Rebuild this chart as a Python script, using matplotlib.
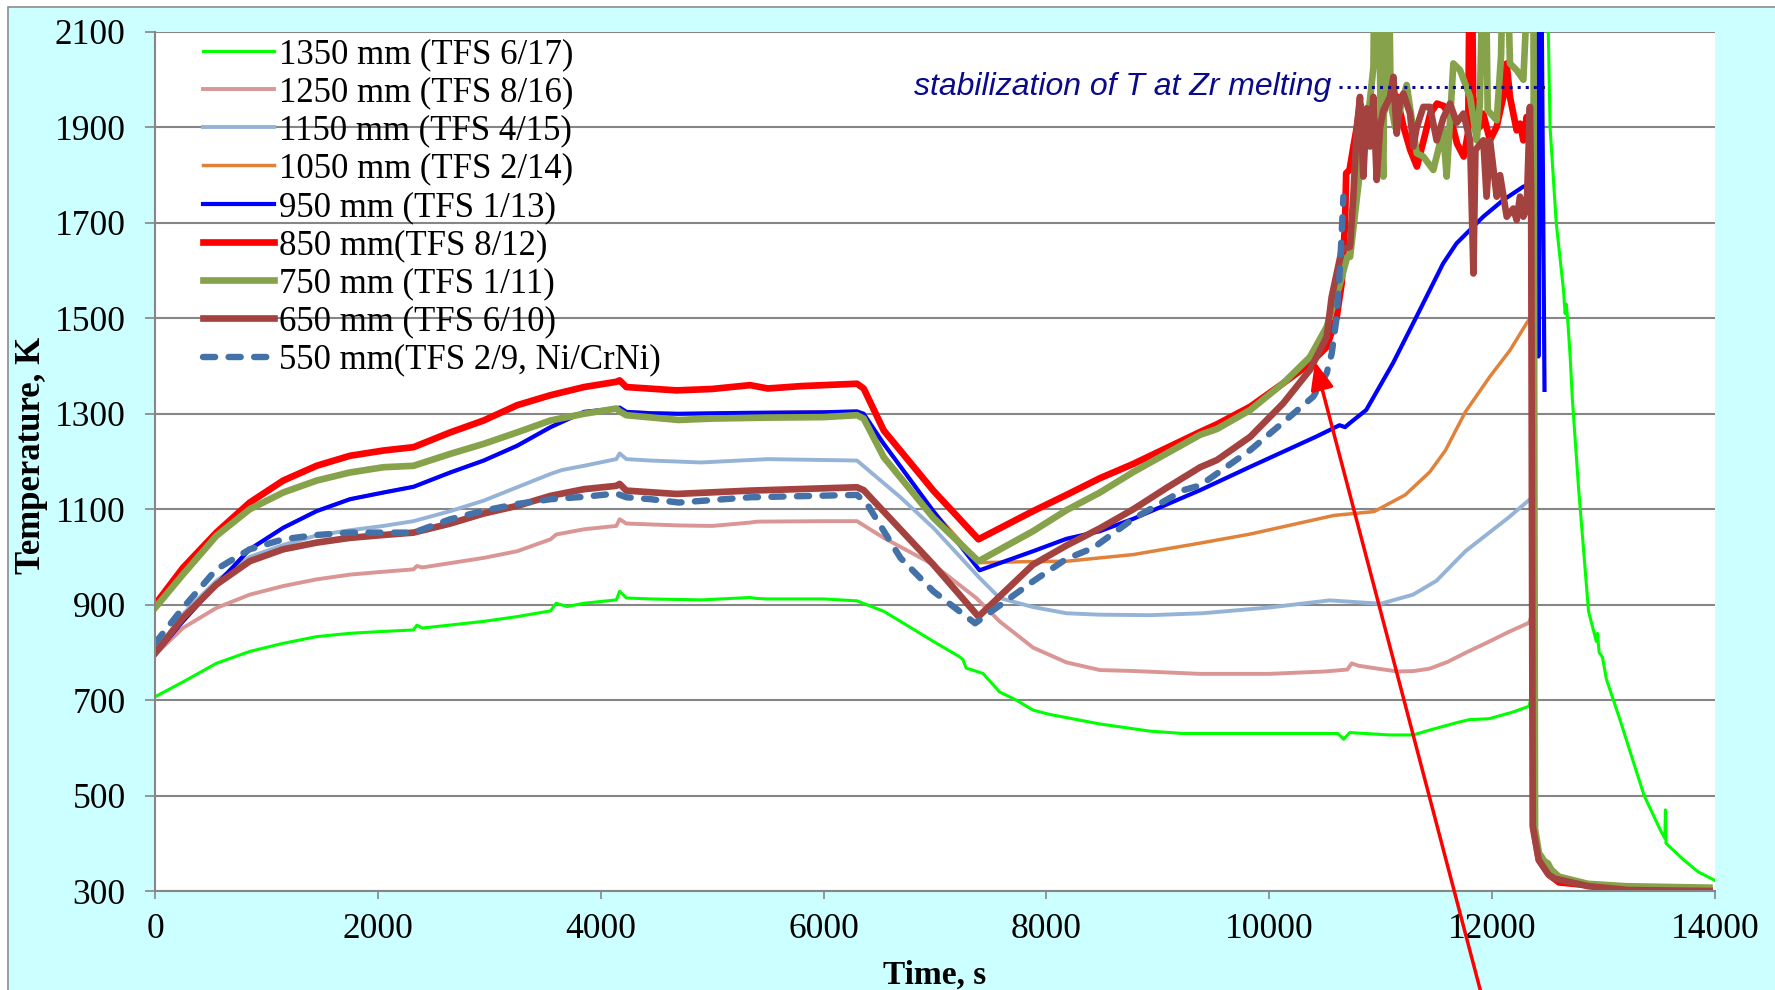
import matplotlib
matplotlib.use("Agg")
import matplotlib.pyplot as plt
from matplotlib.patches import Rectangle

plt.rcParams['font.family'] = ['Liberation Serif', 'DejaVu Serif']

# 1350 mm (TFS 6/17)
t_1350 = [0, 250, 550, 850, 1150, 1450, 1750, 2050, 2320, 2350, 2400, 2950, 3250, 3550, 3600,
          3700, 3850, 4140, 4170, 4230, 4450, 4900, 5340, 5400, 5500, 6000, 6300, 6540, 6690,
          6985, 7220, 7250, 7280, 7430, 7580, 7730, 7880, 8030, 8480, 8930, 9230, 10000, 10615,
          10668, 10722, 11079, 11293, 11436, 11686, 11793, 11972, 12186, 12329, 12345, 12440,
          12500, 12520, 12575, 12640, 12655, 12665, 12680, 12700, 12720, 12775, 12865, 12935,
          12945, 12960, 12990, 13025, 13150, 13257, 13364, 13507, 13550, 13555, 13560, 13720,
          13850, 14000]
T_1350 = [707, 738, 777, 802, 819, 833, 840, 844, 847, 857, 851, 865, 875, 887, 903,
          896, 903, 910, 928, 914, 912, 910, 915, 913, 912, 912, 908, 886, 865,
          823, 791, 785, 767, 756, 717, 700, 679, 670, 650, 635, 630, 630, 630,
          618, 632, 627, 627, 637, 653, 659, 661, 675, 687, 700, 2300,
          2150, 1900, 1700, 1560, 1510, 1530, 1490, 1420, 1330, 1146, 886, 823,
          840, 800, 790, 744, 657, 578, 500, 429, 410, 470, 400, 365,
          340, 322]

# 1250 mm (TFS 8/16)
t_1250 = [0, 250, 550, 850, 1150, 1450, 1750, 2050, 2320, 2350, 2400, 2950, 3250, 3550, 3600,
          3850, 4140, 4170, 4230, 4700, 5000, 5340, 5400, 6000, 6300, 6540, 6985, 7370, 7580,
          7880, 8180, 8480, 8780, 9380, 10000, 10500, 10700, 10740, 10800, 11000, 11150,
          11300, 11440, 11600, 11760, 11950, 12150, 12330, 12360]
T_1250 = [795, 851, 893, 921, 939, 953, 963, 969, 974, 981, 978, 998, 1012, 1037, 1047,
          1058, 1065, 1079, 1070, 1066, 1065, 1072, 1074, 1075, 1075, 1040, 984, 914, 865,
          810, 779, 763, 761, 755, 755, 760, 764, 777, 772, 765, 760,
          761, 766, 780, 799, 820, 843, 862, 880]

# 1150 mm (TFS 4/15)
t_1150 = [0, 250, 550, 850, 1150, 1450, 1750, 2050, 2320, 2650, 2950, 3250, 3550, 3650, 3850,
          4140, 4170, 4230, 4450, 4900, 5500, 6300, 6690, 6985, 7400, 7580, 7880, 8180, 8480,
          8930, 9400, 10000, 10540, 11000, 11290, 11500, 11760, 12150, 12330]
T_1150 = [800, 880, 950, 1000, 1025, 1045, 1056, 1065, 1075, 1096, 1118, 1146, 1174, 1182, 1191,
          1205, 1217, 1205, 1202, 1198, 1205, 1202, 1125, 1061, 956, 914, 895, 882, 879,
          878, 882, 894, 909, 902, 921, 950, 1012, 1083, 1119]

# 1050 mm (TFS 2/14)
t_1050 = [0, 250, 550, 850, 1150, 1450, 1750, 2050, 2320, 2650, 2950, 3250, 3550, 3850, 4140,
          4230, 4700, 5340, 6300, 6540, 6985, 7400, 7800, 8180, 8780, 9380, 9830, 10580, 10940,
          11220, 11440, 11580, 11760, 11980, 12160, 12310, 12340]
T_1050 = [795, 865, 942, 1016, 1061, 1096, 1121, 1135, 1147, 1177, 1202, 1233, 1272, 1304, 1311,
          1304, 1300, 1302, 1305, 1237, 1096, 988, 990, 991, 1005, 1029, 1048, 1087, 1095,
          1130, 1178, 1223, 1304, 1378, 1433, 1490, 1500]

# 950 mm (TFS 1/13)
t_950 = [0, 250, 550, 850, 1150, 1450, 1750, 2050, 2320, 2650, 2950, 3250, 3550, 3850, 4140,
         4170, 4230, 4450, 4700, 5340, 6000, 6300, 6360, 6540, 6985, 7400, 7880, 8180, 8480,
         8780, 9080, 9380, 9830, 10420, 10630, 10680, 10720, 10870, 11110, 11320, 11560, 11680,
         11920, 12100, 12280, 12350, 12400, 12415, 12440, 12470]
T_950 = [795, 865, 942, 1016, 1061, 1096, 1121, 1135, 1147, 1177, 1202, 1233, 1272, 1304, 1311,
         1313, 1304, 1301, 1300, 1302, 1303, 1305, 1300, 1237, 1096, 972, 1012, 1038, 1054,
         1080, 1110, 1140, 1189, 1252, 1276, 1272, 1280, 1308, 1406, 1503, 1615, 1657,
         1713, 1748, 1776, 1780, 2300, 1420, 2300, 1350]

# 850 mm (TFS 8/12)
t_850 = [0, 250, 550, 850, 1150, 1450, 1750, 2050, 2320, 2650, 2950, 3250, 3550, 3850, 4140,
         4170, 4230, 4680, 5000, 5340, 5500, 5800, 6300, 6360, 6540, 6985, 7390, 7880, 8180,
         8480, 8780, 9380, 9530, 9830, 10125, 10365, 10515, 10605, 10650, 10680, 10690, 10720,
         10755, 10785, 10815, 10845, 10905, 10965, 11025, 11085, 11145, 11205, 11265, 11325,
         11385, 11445, 11505, 11565, 11625, 11685, 11745, 11785, 11800, 11815, 11830, 11890,
         11920, 11980, 12040, 12100, 12130, 12160, 12190, 12220, 12250, 12280, 12310, 12340,
         12360, 12372, 12420, 12510, 12600, 12860, 13220, 13950]
T_850 = [900, 977, 1051, 1114, 1160, 1191, 1212, 1223, 1230, 1261, 1286, 1318, 1339, 1356, 1367,
         1370, 1356, 1349, 1352, 1360, 1353, 1358, 1363, 1353, 1265, 1139, 1037, 1096, 1130,
         1165, 1195, 1262, 1278, 1315, 1364, 1405, 1440, 1503, 1573, 1699, 1804, 1811,
         1860, 1900, 1950, 1880, 1936, 1900, 1929, 1978, 1964, 1901, 1853, 1818,
         1873, 1929, 1950, 1945, 1922, 1866, 1839, 1890, 2300, 2300, 1964, 1901,
         1929, 1873, 1901, 1964, 2034, 1964, 1929, 1894, 1908, 1873, 1922, 1880,
         1860, 430, 365, 334, 318, 312, 305, 302]

# 750 mm (TFS 1/11)
t_750 = [0, 250, 550, 850, 1150, 1450, 1750, 2050, 2320, 2650, 2950, 3250, 3550, 3850, 4140,
         4170, 4230, 4700, 5000, 5500, 6000, 6300, 6360, 6540, 6985, 7390, 7880, 8180, 8480,
         8780, 9380, 9530, 9830, 10125, 10365, 10515, 10635, 10700, 10725, 10760, 10815, 10850,
         10900, 10935, 10945, 10980, 11000, 11024, 11040, 11070, 11090, 11130, 11233, 11323,
         11382, 11472, 11560, 11592, 11652, 11712, 11802, 11862, 11890, 11921, 11940, 11960,
         12041, 12080, 12101, 12130, 12160, 12220, 12280, 12339, 12370, 12385, 12420, 12470,
         12500, 12530, 12600, 12860, 13200, 13950]
T_750 = [893, 963, 1044, 1100, 1135, 1160, 1177, 1188, 1191, 1216, 1237, 1261, 1286, 1300, 1311,
         1305, 1297, 1287, 1290, 1292, 1293, 1297, 1290, 1209, 1082, 991, 1054, 1098, 1135,
         1178, 1256, 1268, 1308, 1364, 1419, 1482, 1573, 1629, 1629, 1700, 1811, 1900,
         1950, 2027, 2300, 2300, 1900, 1797, 2300, 2300, 1950, 1900, 1989, 1846,
         1839, 1811, 1894, 1797, 2034, 2020, 1964, 1873, 1950, 2300, 2300, 1936,
         1915, 2050, 2300, 2300, 2034, 2020, 2000, 2300, 2300, 430, 380, 362,
         358, 345, 330, 315, 310, 307]

# 650 mm (TFS 6/10)
t_650 = [0, 250, 550, 850, 1150, 1450, 1750, 2050, 2320, 2650, 2950, 3250, 3550, 3850, 4140,
         4170, 4230, 4680, 5340, 6300, 6360, 6420, 6985, 7390, 7880, 8180, 8480, 8780, 9080,
         9380, 9530, 9830, 10125, 10365, 10515, 10560, 10650, 10724, 10754, 10784, 10814,
         10844, 10874, 10904, 10934, 10964, 10994, 11024, 11084, 11114, 11144, 11174, 11204,
         11263, 11293, 11323, 11382, 11442, 11502, 11562, 11622, 11682, 11742, 11802, 11832,
         11850, 11921, 11950, 11981, 12041, 12071, 12131, 12190, 12220, 12250, 12280, 12310,
         12339, 12350, 12364, 12418, 12507, 12560, 12864, 13221, 13950]
T_650 = [798, 872, 942, 991, 1016, 1030, 1040, 1046, 1051, 1070, 1091, 1107, 1128, 1142, 1149,
         1153, 1139, 1132, 1139, 1146, 1140, 1125, 984, 875, 984, 1024, 1060, 1100, 1145,
         1188, 1203, 1252, 1322, 1392, 1461, 1545, 1643, 1650, 1755, 1894, 1964,
         1797, 1940, 1860, 1964, 1790, 1900, 1936, 1964, 2006, 1887, 1960, 1971,
         1929, 1860, 1900, 1943, 1943, 1873, 1920, 1950, 1910, 1929, 1873, 1594,
         1853, 1873, 1755, 1873, 1755, 1800, 1713, 1730, 1706, 1755, 1713, 1730,
         1943, 1750, 436, 365, 334, 326, 310, 302, 300]

# 550 mm (TFS 2/9, Ni/CrNi)
t_550 = [0, 250, 550, 850, 1150, 1450, 1750, 2320, 2650, 2950, 3250, 3550, 3850, 4140, 4230,
         4450, 4700, 5340, 6300, 6390, 6690, 6985, 7360, 7880, 8180, 8420, 8780, 9230, 9380,
         9830, 10185, 10395, 10515, 10560, 10605, 10635, 10665]
T_550 = [819, 893, 974, 1016, 1037, 1046, 1051, 1051, 1079, 1097, 1111, 1121, 1126, 1133, 1125,
         1121, 1114, 1125, 1130, 1111, 998, 928, 861, 949, 996, 1019, 1080, 1140, 1150,
         1224, 1294, 1336, 1385, 1426, 1503, 1608, 1755]

labels = ['1350 mm (TFS 6/17)', '1250 mm (TFS 8/16)', '1150 mm (TFS 4/15)',
          '1050 mm (TFS 2/14)', '950 mm (TFS 1/13)', '850 mm(TFS 8/12)',
          '750 mm (TFS 1/11)', '650 mm (TFS 6/10)', '550 mm(TFS 2/9, Ni/CrNi)']
series = [(t_1350, T_1350), (t_1250, T_1250), (t_1150, T_1150), (t_1050, T_1050),
          (t_950, T_950), (t_850, T_850), (t_750, T_750), (t_650, T_650), (t_550, T_550)]
colors = ['#00FF00', '#D99694', '#95B3D7', '#E0823A', '#0000FF', '#FF0000',
          '#86A24A', '#A4423F', '#4472A8']
widths = [2.2, 2.8, 2.8, 2.5, 3.0, 4.8, 4.8, 4.8, 4.6]

fig = plt.figure(figsize=(17.75, 9.9), dpi=100)
fig.patch.set_facecolor('white')
# cyan chart area with grey frame (cropped on right and bottom)
fig.patches.append(Rectangle((8 / 1775, -0.05), 1.1, (983 / 990) + 0.05,
                             transform=fig.transFigure, facecolor='#CCFFFF',
                             edgecolor='#8C8C8C', lw=1.2, zorder=-10))

ax = fig.add_axes([155 / 1775, 99 / 990, 1560 / 1775, 859 / 990])
ax.set_facecolor('white')

for (t, T), lab, c, w in zip(series, labels, colors, widths):
    if lab.startswith('550'):
        ax.plot(t, T, color=c, lw=w, ls='--', dashes=(1.9, 2.1), dash_capstyle='round',
                label=lab)
    else:
        ax.plot(t, T, color=c, lw=w, label=lab, solid_joinstyle='round')

ax.set_xlim(0, 14000)
ax.set_ylim(300, 2100)
ax.set_xticks(range(0, 14001, 2000))
ax.set_yticks(range(300, 2101, 200))
ax.yaxis.grid(True, color='#868686', lw=1.5)
ax.set_axisbelow(True)
for s in ['top', 'right']:
    ax.spines[s].set_visible(False)
for s in ['left', 'bottom']:
    ax.spines[s].set_color('#868686')
    ax.spines[s].set_linewidth(1.5)
ax.tick_params(axis='both', direction='out', color='#868686', width=1.2, labelsize=25.5)
ax.tick_params(axis='y', length=7, pad=14)
ax.tick_params(axis='x', length=6, pad=10)

# Zr melting annotation
ax.plot([10630, 12500], [1985, 1985], ls=':', color='#0A0A8A', lw=2.2)
ax.text(10560, 1985, 'stabilization of T at Zr melting', ha='right', va='center',
        style='italic', family='Liberation Sans', color='#0A0A8A', size=23)

ax.annotate('', xy=(10410, 1409), xytext=(11930, 60), annotation_clip=False,
            arrowprops=dict(arrowstyle='-|>,head_length=0.6,head_width=0.25',
                            color='#FF0000', lw=2.5, mutation_scale=28,
                            shrinkA=0, shrinkB=0))

ax.legend(loc='upper left', bbox_to_anchor=(0.0308, 0.993), frameon=False,
          fontsize=25, borderaxespad=0, borderpad=0, labelspacing=0.15,
          handlelength=2.05, handletextpad=0.15)

fig.text(32 / 1775, 1 - 455 / 990, 'Temperature, K', rotation=90, ha='center',
         va='center', weight='bold', size=25)
fig.text(935 / 1775, 6 / 990, 'Time, s', ha='center', va='baseline', weight='bold', size=24)

fig.savefig('out.png', dpi=100)
